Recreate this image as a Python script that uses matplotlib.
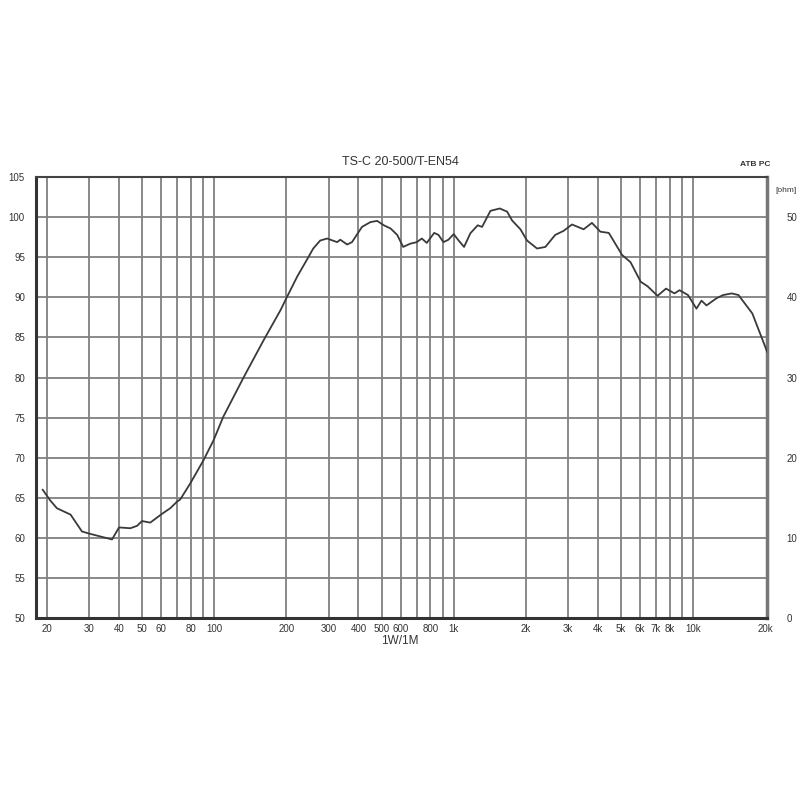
import matplotlib
matplotlib.use("Agg")
import matplotlib.pyplot as plt
from matplotlib.ticker import FixedLocator, FixedFormatter, NullLocator

plt.rcParams['font.family'] = ['Liberation Sans', 'DejaVu Sans']

freq = [19.2, 20.6, 22.0, 25.1, 28.0, 30.3, 37.4, 40.0, 44.6, 47.6, 49.9, 54.0,
        60.5, 65.5, 69.8, 72.1, 79.4, 90.2, 99.4, 109, 133, 161, 189, 200, 222,
        248, 259, 277, 296, 326, 336, 359, 376, 414, 449, 479, 511, 545, 581,
        615, 658, 701, 736, 772, 829, 864, 906, 951, 1000, 1049, 1105, 1174,
        1260, 1314, 1424, 1557, 1672, 1754, 1900, 2025, 2230, 2416, 2655, 2877,
        3120, 3490, 3780, 4100, 4446, 5051, 5478, 6043, 6448, 7105, 7710, 8360,
        8776, 9520, 10330, 10840, 11380, 12530, 13370, 14500, 15470, 17680, 20400]
spl = [66.0, 64.7, 63.7, 62.9, 60.8, 60.5, 59.8, 61.3, 61.2, 61.5, 62.1, 61.9,
       63.0, 63.7, 64.5, 64.8, 66.8, 69.7, 72.2, 75.1, 80.1, 84.7, 88.4, 89.9, 92.6,
       95.1, 96.1, 97.1, 97.35, 96.9, 97.2, 96.6, 96.9, 98.8, 99.4, 99.55, 99.0, 98.6, 97.8,
       96.3, 96.7, 96.9, 97.35, 96.8, 98.05, 97.8, 96.9, 97.2, 97.9, 97.1, 96.3, 98.0,
       99.0, 98.8, 100.8, 101.1, 100.7, 99.6, 98.5, 97.1, 96.1, 96.3, 97.8, 98.3,
       99.1, 98.5, 99.3, 98.2, 98.05, 95.3, 94.4, 91.95, 91.4, 90.2, 91.1, 90.5,
       90.9, 90.3, 88.6, 89.6, 89.0, 89.9, 90.3, 90.5, 90.3, 88.0, 83.2]

grid_freqs = [20, 30, 40, 50, 60, 70, 80, 90, 100, 200, 300, 400, 500, 600, 700,
              800, 900, 1000, 2000, 3000, 4000, 5000, 6000, 7000, 8000, 9000, 10000]
xtick_vals = [20, 30, 40, 50, 60, 80, 100, 200, 300, 400, 500, 600, 800, 1000,
              2000, 3000, 4000, 5000, 6000, 7000, 8000, 10000, 20000]
xtick_labels = ["20", "30", "40", "50", "60", "80", "100", "200", "300", "400",
                "500", "600", "800", "1k", "2k", "3k", "4k", "5k", "6k", "7k",
                "8k", "10k", "20k"]
db_ticks = [50, 55, 60, 65, 70, 75, 80, 85, 90, 95, 100, 105]
ohm_ticks = [0, 10, 20, 30, 40, 50]

fig = plt.figure(figsize=(8, 8), dpi=100)
ax = fig.add_axes([0.045, 0.2275, 0.914, 0.551])
ax.set_xscale("log")
ax.set_xlim(18.0, 20400)
ax.set_ylim(50, 105)

for f in grid_freqs:
    ax.axvline(f, color="#808080", lw=1.3, zorder=1)
for d in db_ticks[1:-1]:
    ax.axhline(d, color="#808080", lw=1.3, zorder=1)

ax.plot(freq, spl, color="#3a3a3a", lw=1.3, zorder=3)

ax.xaxis.set_major_locator(FixedLocator(xtick_vals))
ax.xaxis.set_major_formatter(FixedFormatter(xtick_labels))
ax.xaxis.set_minor_locator(NullLocator())
ax.set_yticks(db_ticks)
ax.set_yticklabels([str(v) for v in db_ticks])
ax.tick_params(axis="both", length=0, labelsize=7, colors="#333333")
ax.tick_params(axis="y", pad=8)
ax.tick_params(axis="x", pad=4)

for side in ["left", "bottom"]:
    ax.spines[side].set_linewidth(2.2)
    ax.spines[side].set_color("#333333")
ax.spines["top"].set_linewidth(1.5)
ax.spines["top"].set_color("#444444")
ax.spines["right"].set_linewidth(2.5)
ax.spines["right"].set_color("#777777")

ax2 = ax.twinx()
ax2.set_ylim(0, 55)
ax2.set_yticks(ohm_ticks)
ax2.set_yticklabels([str(v) for v in ohm_ticks])
ax2.tick_params(axis="y", length=0, labelsize=7, colors="#333333", pad=14)
for s in ax2.spines.values():
    s.set_visible(False)

fig.text(0.5, 0.79, "TS-C 20-500/T-EN54", ha="center", va="bottom",
         fontsize=9, color="#333333")
fig.text(0.944, 0.79, "ATB PC", ha="center", va="bottom",
         fontsize=6, color="#333333", fontweight="bold")
fig.text(0.983, 0.762, "[ohm]", ha="center", va="center",
         fontsize=6, color="#333333")
fig.text(0.5, 0.199, "1W/1M", ha="center", va="center",
         fontsize=8.5, color="#333333")

fig.savefig("out.png", dpi=100, facecolor="white")
